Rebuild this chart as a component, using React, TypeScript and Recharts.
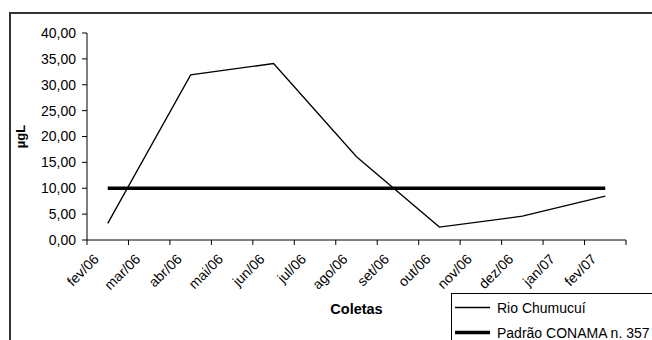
import { LineChart, Line, XAxis, YAxis, Legend, Label } from "recharts";

const months = [
  "fev/06", "mar/06", "abr/06", "mai/06", "jun/06", "jul/06", "ago/06",
  "set/06", "out/06", "nov/06", "dez/06", "jan/07", "fev/07",
];
// coletas bimestrais; os meses sem coleta ficam null
const rioChumucui = [3.2, null, 31.9, null, 34.1, null, 16.1, null, 2.5, null, 4.6, null, 8.5];
const conama = [10, 10, 10, 10, 10, 10, 10, 10, 10, 10, 10, 10, 10];
const yTicks = [0, 5, 10, 15, 20, 25, 30, 35, 40];
const xBounds = [0, 1, 2, 3, 4, 5, 6, 7, 8, 9, 10, 11, 12, 13];
const seriesNames = ["Rio Chumucuí", "Padrão CONAMA n. 357"];

const data = months.map((m, i) => ({
  x: i + 0.5,
  month: m,
  rio: rioChumucui[i],
  conama: conama[i],
}));

const W = 652;
const H = 340;
const MARGIN = { top: 33, right: 26, bottom: 0, left: 0 };
const Y_W = 87;
const STEP = (W - MARGIN.left - MARGIN.right - Y_W) / months.length;
const FONT = '"Liberation Sans", Arial, sans-serif';

function MonthTick(props: any) {
  const { x, y, payload } = props;
  const i = payload.value;
  if (i >= months.length) return null;
  const ax = x + STEP / 2 - 8;
  const ay = y + 13;
  return (
    <text
      x={ax}
      y={ay}
      transform={`rotate(-45 ${ax} ${ay})`}
      textAnchor="end"
      fontSize={14}
      fontFamily={FONT}
      fill="#000"
    >
      {months[i]}
    </text>
  );
}

const widths: Record<string, number> = { "Rio Chumucuí": 1.3, "Padrão CONAMA n. 357": 3.5 };

function LegendBox(props: any) {
  const items = [...(props.payload || [])].sort(
    (a: any, b: any) => seriesNames.indexOf(a.value) - seriesNames.indexOf(b.value)
  );
  return (
    <div
      style={{
        border: "1px solid #000",
        background: "#fff",
        width: 220,
        height: 60,
        paddingTop: 1,
        boxSizing: "border-box",
      }}
    >
      {items.map((entry: any) => (
        <div
          key={entry.value}
          style={{ height: 25, display: "flex", alignItems: "center" }}
        >
          <svg width={44} height={25} style={{ display: "block" }}>
            <line x1={3} x2={38} y1={12.5} y2={12.5} stroke="#000" strokeWidth={widths[entry.value] || 1} />
          </svg>
          <span style={{ fontSize: 14, fontFamily: FONT, color: "#000", whiteSpace: "nowrap", marginLeft: 1 }}>
            {entry.value}
          </span>
        </div>
      ))}
    </div>
  );
}

export default function App() {
  return (
    <div
      style={{
        position: "fixed",
        left: 0,
        top: 0,
        width: W,
        height: H,
        overflow: "hidden",
        background: "#fff",
        fontFamily: FONT,
      }}
    >
      <div
        style={{
          position: "absolute",
          left: 9,
          top: 12,
          width: 700,
          height: 400,
          borderLeft: "2px solid #333",
          borderTop: "2px solid #333",
        }}
      />
      <div style={{ position: "absolute", left: 0, top: 0 }}>
        <LineChart width={W} height={H} data={data} margin={MARGIN}>
          <XAxis
            dataKey="x"
            type="number"
            domain={[0, 13]}
            ticks={xBounds}
            interval={0}
            height={100}
            axisLine={{ stroke: "#000" }}
            tickLine={{ stroke: "#000" }}
            tickSize={5}
            tick={<MonthTick />}
          >
            <Label
              content={(p: any) => {
                const vb = p.viewBox;
                return (
                  <text
                    x={vb.x + vb.width / 2}
                    y={vb.y + 74}
                    textAnchor="middle"
                    fontSize={14.5}
                    fontWeight="bold"
                    fontFamily={FONT}
                    fill="#000"
                  >
                    Coletas
                  </text>
                );
              }}
            />
          </XAxis>
          <YAxis
            width={Y_W}
            domain={[0, 40]}
            ticks={yTicks}
            interval={0}
            axisLine={{ stroke: "#000" }}
            tickLine={{ stroke: "#000" }}
            tickSize={5}
            tickMargin={6}
            tick={{ fontSize: 14, fontFamily: FONT, fill: "#000" }}
            tickFormatter={(v: number) => v.toFixed(2).replace(".", ",")}
          >
            <Label
              content={(p: any) => {
                const vb = p.viewBox;
                const lx = vb.x + 25;
                const ly = vb.y + vb.height / 2;
                return (
                  <text
                    x={lx}
                    y={ly}
                    transform={`rotate(-90 ${lx} ${ly})`}
                    textAnchor="middle"
                    fontSize={13}
                    fontWeight="bold"
                    fontFamily={FONT}
                    fill="#000"
                  >
                    µgL
                  </text>
                );
              }}
            />
          </YAxis>
          <Line
            dataKey="rio"
            name="Rio Chumucuí"
            stroke="#000"
            strokeWidth={1.3}
            dot={false}
            connectNulls
            isAnimationActive={false}
          />
          <Line
            dataKey="conama"
            name="Padrão CONAMA n. 357"
            stroke="#000"
            strokeWidth={3.5}
            dot={false}
            isAnimationActive={false}
          />
          <Legend
            layout="horizontal"
            verticalAlign="middle"
            content={<LegendBox />}
            wrapperStyle={{ left: 451, top: 293, width: 220 }}
          />
        </LineChart>
      </div>
    </div>
  );
}
